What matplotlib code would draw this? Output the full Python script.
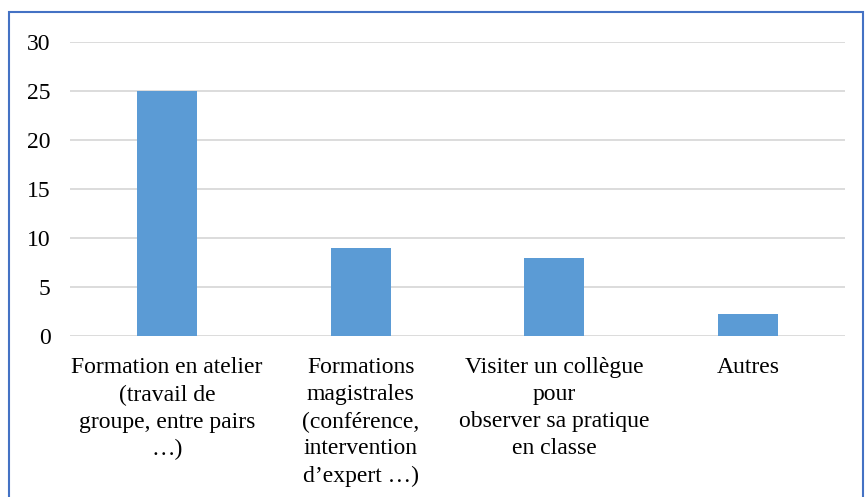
import matplotlib
matplotlib.use("Agg")
import matplotlib.pyplot as plt
from matplotlib.patches import Rectangle

categories = [
    "Formation en atelier\n(travail de\ngroupe, entre pairs\n\u2026)",
    "Formations\nmagistrales\n(conf\u00e9rence,\nintervention\nd\u2019expert \u2026)",
    "Visiter un coll\u00e8gue\npour\nobserver sa pratique\nen classe",
    "Autres",
]
values = [25, 9, 8, 2.2]
yticks = [0, 5, 10, 15, 20, 25, 30]

plt.rcParams['font.family'] = ['Liberation Serif', 'DejaVu Serif']

fig = plt.figure(figsize=(8.65, 4.97), dpi=100)
ax = fig.add_axes([0.081, 0.324, 0.896, 0.592])

x = list(range(len(categories)))
ax.bar(x, values, width=0.31, color='#5B9BD5', zorder=3)
ax.set_xlim(-0.5, len(categories) - 0.5)
ax.set_ylim(0, 30)
ax.set_yticks(yticks)
ax.set_yticklabels([str(v) for v in yticks], fontsize=17)
ax.set_xticks(x)
ax.set_xticklabels(categories, fontsize=17, linespacing=1.37, va='top')
ax.tick_params(axis='both', length=0)
ax.tick_params(axis='y', pad=14)
ax.tick_params(axis='x', pad=15.5)
ax.grid(axis='y', color='#D9D9D9', linewidth=1.3, zorder=0)
for s in ax.spines.values():
    s.set_visible(False)

border = Rectangle((0.010, -0.1), 0.988, 1.075, transform=fig.transFigure,
                   fill=False, edgecolor='#4472C4', linewidth=1.5)
fig.patches.append(border)

fig.savefig("out.png", dpi=100)
